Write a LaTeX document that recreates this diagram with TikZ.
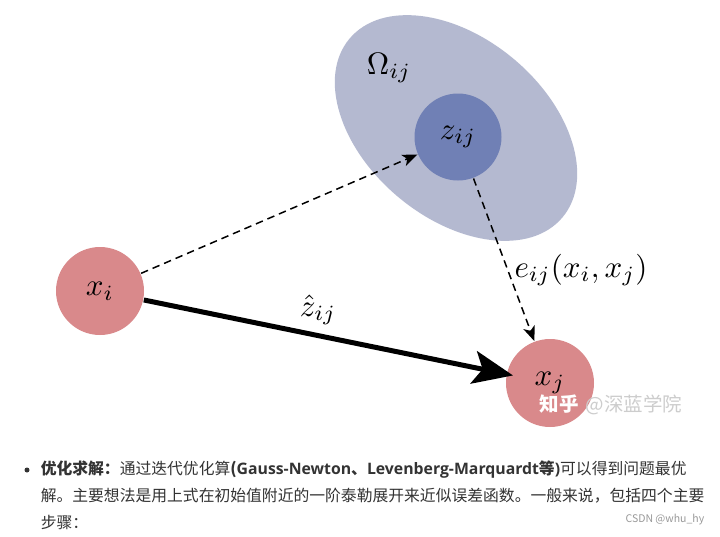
\documentclass[tikz,border=0pt]{standalone}
\usepackage{fontspec}
\usepackage{amsmath}
\usepackage{graphicx}
\usepackage{tikz}
\usetikzlibrary{arrows.meta,positioning,shapes.geometric}
\newfontfamily\cjkfont{Noto Sans CJK SC}
\newfontfamily\latinfont{Open Sans}
\definecolor{graph@pink}{RGB}{217,137,139}
\definecolor{graph@blue}{RGB}{112,128,181}
\definecolor{graph@pale}{RGB}{180,185,208}
\definecolor{graph@text}{RGB}{51,51,51}
\definecolor{graph@mark}{RGB}{205,205,205}
\newcommand{\labmath}[1]{\scalebox{3.1}{$#1$}}
\tikzset{
  factor/.style={
    x=1pt, y=-1pt,
    line width=1.5pt
  },
  pose/.style={                    % robot pose vertex
    circle, fill=graph@pink,
    inner sep=0pt, minimum size=88pt
  },
  meas/.style={                    % measurement
    circle, fill=graph@blue,
    inner sep=0pt, minimum size=87pt
  },
  covar/.style={                   % information ellipse
    ellipse, fill=graph@pale,
    inner sep=0pt, minimum width=278pt, minimum height=180pt,
    rotate=-40
  },
  mathlbl/.style={inner sep=1pt},
  predarrow/.style={
    -{Stealth[length=15pt,width=12pt,inset=4pt]},
    dash pattern=on 7.5pt off 5pt
  },
  edgearrow/.style={
    -{Stealth[length=40pt,width=33pt,inset=9pt]},
    line width=5pt, shorten >=-7pt
  },
  bodytext/.style={
    inner sep=0pt, anchor=west, text=graph@text,
    font=\cjkfont\fontsize{15.8}{18}\selectfont
  }
}

\begin{document}
\begin{tikzpicture}[factor]
\fill[white] (0,0) rectangle (720,536);
\useasboundingbox (0,0) rectangle (720,536);

\node[covar]            (omega) at (456,128) {};
\node[meas]             (zij)   at (458,137) {\labmath{z_{ij}}};
\node[pose]             (xi)    at (100,291) {\labmath{x_i}};
\node[pose]             (xj)    at (550,383) {\labmath{x_j}};
\node[mathlbl]          (omlbl) at (389,68)  {\labmath{\Omega_{ij}}};

% edges of the factor
\draw[predarrow] (xi) -- (zij);
\draw[predarrow] (zij) -- (xj);
\draw[edgearrow] (xi) -- (xj);

\node[mathlbl] (zhat) at (318,310) {\labmath{\hat{z}_{ij}}};
\node[mathlbl] (err)  at (581,270) {\labmath{e_{ij}(x_i,x_j)}};

\node[inner sep=0pt, font=\cjkfont\fontsize{19.5}{20}\selectfont] (mark) at (611,405)
  {\textcolor{white}{\bfseries 知乎}\hspace{7pt}\textcolor{graph@mark}{@深蓝学院}};

% text below the figure
\node[circle, fill=graph@text, inner sep=0pt, minimum size=5pt] (dot) at (27,470) {};
\node[bodytext] (line1) at (40,470)
  {\textbf{优化求解：}通过迭代优化算{\bfseries(\latinfont Gauss-Newton\cjkfont 、\latinfont Levenberg-Marquardt\cjkfont 等\latinfont)}可以得到问题最优};
\node[bodytext] (line2) at (40,496)
  {解。主要想法是用上式在初始值附近的一阶泰勒展开来近似误差函数。一般来说，包括四个主要};
\node[bodytext] (line3) at (40,522) {步骤：};
\node[inner sep=0pt, anchor=east, text=gray!80, font=\cjkfont\fontsize{10.5}{12}\selectfont] (csdn) at (705,520)
  {CSDN @whu\_hy};
\end{tikzpicture}
\end{document}
